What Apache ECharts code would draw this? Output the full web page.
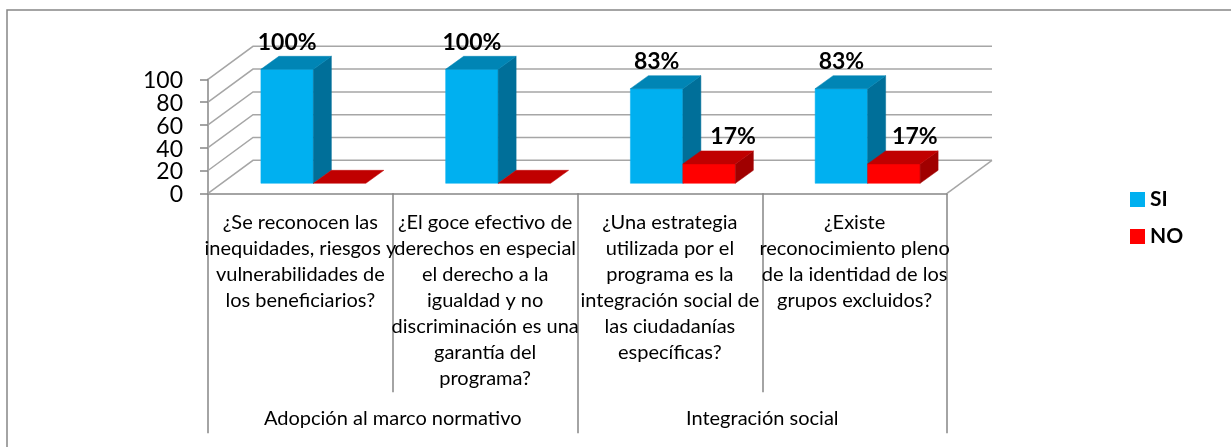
<!DOCTYPE html>
<html>
<head>
<meta charset="utf-8">
<style>html,body{margin:0;padding:0;background:#fff}#c{width:1231px;height:447px}</style>
<script src="https://cdn.jsdelivr.net/npm/echarts@6/dist/echarts.min.js"></script>
</head>
<body>
<div id="c"></div>
<script>
const categories = [
  '¿Se reconocen las\ninequidades, riesgos y\nvulnerabilidades de\nlos beneficiarios?',
  '¿El goce efectivo de\nderechos en especial\nel derecho a la\nigualdad y no\ndiscriminación es una\ngarantía del\nprograma?',
  '¿Una estrategia\nutilizada por el\nprograma es la\nintegración social de\nlas ciudadanías\nespecíficas?',
  '¿Existe\nreconocimiento pleno\nde la identidad de los\ngrupos excluidos?'
];
const groups = ['Adopción al marco normativo', 'Integración social'];
const siValues = [100, 100, 83, 83];
const noValues = [0, 0, 17, 17];
const noLabelShift = [0, 0, 24, 21];
const yTicks = [0, 20, 40, 60, 80, 100];

const FONT = 'Lato';
const GRID = '#a6a6a6';
const AXIS = '#868686';
const WALL_DX = 45, WALL_DY = -33;
const BAR_DX = 13, BAR_DY = -10;
const DEPTH_DX = 18, DEPTH_DY = -13;
const BAR_FRAC = 0.284;

function poly(points, fill) {
  return { type: 'polygon', shape: { points }, style: { fill, stroke: fill, lineWidth: 0.5 } };
}

function barRenderer(side, faces, shifts) {
  return function (params, api) {
    const i = api.value(0), v = api.value(1);
    const base = api.coord([i, 0]), top = api.coord([i, v]);
    const w = api.size([1, 0])[0] * BAR_FRAC;
    const cx = base[0] + BAR_DX;
    const x0 = side < 0 ? cx - w : cx, x1 = x0 + w;
    const yb = base[1] + BAR_DY, yt = top[1] + BAR_DY;
    const children = [];
    if (v > 0) {
      children.push(poly([[x0, yt], [x1, yt], [x1, yb], [x0, yb]], faces[0]));
      children.push(poly([[x1, yt], [x1 + DEPTH_DX, yt + DEPTH_DY], [x1 + DEPTH_DX, yb + DEPTH_DY], [x1, yb]], faces[1]));
    }
    children.push(poly([[x0, yt], [x0 + DEPTH_DX, yt + DEPTH_DY], [x1 + DEPTH_DX, yt + DEPTH_DY], [x1, yt]], faces[2]));
    if (v > 0) {
      children.push({
        type: 'text',
        z2: 10,
        style: {
          text: v + '%',
          x: (x0 + x1) / 2 + shifts[i],
          y: yt - 27,
          align: 'center',
          verticalAlign: 'middle',
          fill: '#000',
          font: 'bold 23px ' + FONT
        }
      });
    }
    return { type: 'group', children };
  };
}

function wallRenderer(params, api) {
  const v = api.value(0);
  const a = api.coord([0, v]);
  const band = api.size([1, 0])[0];
  const x0 = a[0] - band / 2, y = a[1];
  const x1 = x0 + band * categories.length;
  const style = { stroke: GRID, lineWidth: 1.5, fill: null };
  const children = [{
    type: 'polyline',
    shape: { points: [[x0, y], [x0 + WALL_DX, y + WALL_DY], [x1 + WALL_DX, y + WALL_DY]] },
    style
  }, {
    type: 'text',
    style: {
      text: String(v),
      x: x0 - 25,
      y: y + 1.5,
      align: 'right',
      verticalAlign: 'middle',
      fill: '#000',
      font: '23px ' + FONT
    }
  }];
  if (v === 0) {
    children.push({
      type: 'line',
      shape: { x1: x1, y1: y, x2: x1 + WALL_DX, y2: y + WALL_DY },
      style
    });
  }
  return { type: 'group', children };
}

const chart = echarts.init(document.getElementById('c'), null, { renderer: 'canvas' });
chart.setOption({
  animation: false,
  backgroundColor: '#fff',
  textStyle: { fontFamily: FONT },
  graphic: [{
    type: 'polyline',
    silent: true,
    shape: { points: [[7, 447], [7, 10], [1231, 10]] },
    style: { fill: 'none', stroke: AXIS, lineWidth: 1.5 }
  }],
  grid: { left: 208, right: 284, top: 79.3, bottom: 253.7, containLabel: false },
  legend: {
    orient: 'vertical',
    left: 1130,
    top: 189,
    padding: 0,
    itemWidth: 15,
    itemHeight: 15,
    itemGap: 16,
    icon: 'rect',
    data: ['SI', 'NO'],
    textStyle: { fontFamily: FONT, fontWeight: 'bold', fontSize: 21, color: '#000' }
  },
  xAxis: [
    {
      type: 'category',
      data: categories,
      position: 'bottom',
      axisLine: { show: true, lineStyle: { color: AXIS, width: 1.5 } },
      axisTick: { show: true, length: 199, lineStyle: { color: AXIS, width: 1.5 } },
      axisLabel: {
        interval: 0,
        hideOverlap: false,
        margin: 16,
        lineHeight: 26,
        fontFamily: FONT,
        fontSize: 20,
        color: '#000'
      }
    },
    {
      type: 'category',
      data: groups,
      position: 'bottom',
      axisLine: { show: false },
      axisTick: { show: true, length: 240, lineStyle: { color: AXIS, width: 1.5 } },
      axisLabel: {
        interval: 0,
        margin: 215,
        fontFamily: FONT,
        fontSize: 20,
        color: '#000'
      }
    }
  ],
  yAxis: {
    type: 'value',
    min: 0,
    max: 100,
    interval: 20,
    axisLine: { show: true, lineStyle: { color: AXIS, width: 1.5 } },
    axisTick: { show: true, length: 8, lineStyle: { color: AXIS, width: 1.5 } },
    splitLine: { show: false },
    axisLabel: { show: false }
  },
  series: [
    {
      name: 'wall',
      type: 'custom',
      silent: true,
      z: 1,
      clip: false,
      data: yTicks.map(v => [v]),
      encode: { y: 0 },
      renderItem: wallRenderer
    },
    {
      name: 'SI',
      type: 'custom',
      z: 2,
      itemStyle: { color: '#00b0f0' },
      data: siValues.map((v, i) => [i, v]),
      encode: { x: 0, y: 1 },
      renderItem: barRenderer(-1, ['#00b0f0', '#006f99', '#0085b5'], [0, 0, 0, 0])
    },
    {
      name: 'NO',
      type: 'custom',
      z: 3,
      itemStyle: { color: '#ff0000' },
      data: noValues.map((v, i) => [i, v]),
      encode: { x: 0, y: 1 },
      renderItem: barRenderer(1, ['#ff0000', '#a00000', '#c00000'], noLabelShift)
    }
  ]
});
</script>
</body>
</html>
